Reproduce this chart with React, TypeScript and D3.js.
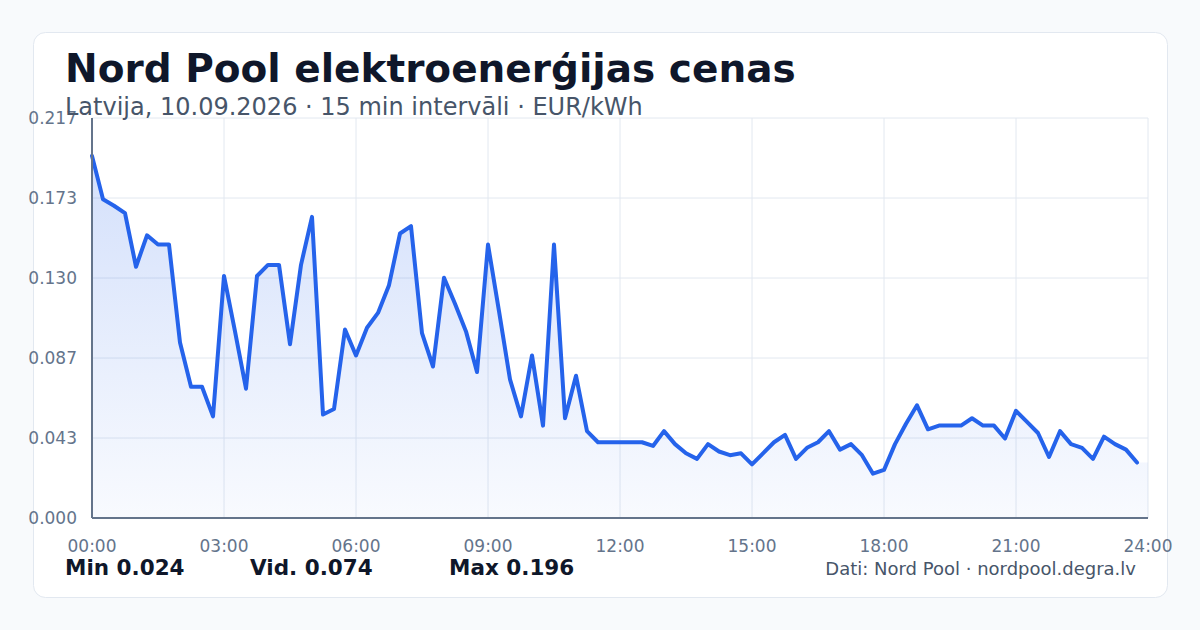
import React, { useRef, useEffect } from 'react';
import * as d3 from 'd3';

// 15 min prices, 00:00 .. 23:45 (EUR/kWh)
const prices: number[] = [
    0.196, 0.1725, 0.169, 0.165, 0.136, 0.153, 0.148, 0.148,
    0.095, 0.071, 0.071, 0.055, 0.131, 0.101, 0.070, 0.131,
    0.137, 0.137, 0.094, 0.137, 0.163, 0.056, 0.059, 0.102,
    0.088, 0.103, 0.111, 0.126, 0.154, 0.158, 0.100, 0.082,
    0.130, 0.116, 0.101, 0.079, 0.148, 0.112, 0.075, 0.055,
    0.088, 0.050, 0.148, 0.054, 0.077, 0.047, 0.041, 0.041,
    0.041, 0.041, 0.041, 0.039, 0.047, 0.040, 0.035, 0.032,
    0.040, 0.036, 0.034, 0.035, 0.029, 0.035, 0.041, 0.045,
    0.032, 0.038, 0.041, 0.047, 0.037, 0.040, 0.034, 0.024,
    0.026, 0.040, 0.051, 0.061, 0.048, 0.050, 0.050, 0.050,
    0.054, 0.050, 0.050, 0.043, 0.058, 0.052, 0.046, 0.033,
    0.047, 0.040, 0.038, 0.032, 0.044, 0.040, 0.037, 0.030,
];

const yMax = 0.2165;
const yTickValues = [0, 0.0433, 0.0866, 0.1299, 0.1732, 0.2165];
const yTickLabels = ['0.000', '0.043', '0.087', '0.130', '0.173', '0.217'];
const xTickHours = [0, 3, 6, 9, 12, 15, 18, 21, 24];
const xTickLabels = ['00:00', '03:00', '06:00', '09:00', '12:00', '15:00', '18:00', '21:00', '24:00'];

const title = 'Nord Pool elektroenerģijas cenas';
const subtitle = 'Latvija, 10.09.2026 · 15 min intervāli · EUR/kWh';
const statLabels = ['Min 0.024', 'Vid. 0.074', 'Max 0.196'];
const sourceText = 'Dati: Nord Pool · nordpool.degra.lv';

const App: React.FC = () => {
    const svgRef = useRef<SVGSVGElement | null>(null);
    const width = 1200;
    const height = 630;
    const margin = { top: 118, right: 52, bottom: 112, left: 92 };
    const font = '"DejaVu Sans", Verdana, sans-serif';

    useEffect(() => {
        if (!svgRef.current) return;
        const svg = d3.select(svgRef.current);
        svg.selectAll('*').remove();
        svg.attr('viewBox', `0 0 ${width} ${height}`).attr('width', width).attr('height', height);

        const x = d3.scaleLinear().domain([0, 24]).range([margin.left, width - margin.right]);
        const y = d3.scaleLinear().domain([0, yMax]).range([height - margin.bottom, margin.top]);

        // page + card
        svg.append('rect').attr('width', width).attr('height', height).attr('fill', '#f8fafc');
        svg.append('rect')
            .attr('x', 33.5).attr('y', 32.5).attr('width', 1134).attr('height', 565)
            .attr('rx', 12).attr('fill', '#ffffff').attr('stroke', '#e2e8f0');

        const defs = svg.append('defs');
        const grad = defs.append('linearGradient').attr('id', 'area-grad')
            .attr('x1', 0).attr('y1', 0).attr('x2', 0).attr('y2', 1);
        grad.append('stop').attr('offset', '0%').attr('stop-color', '#2563eb').attr('stop-opacity', 0.2);
        grad.append('stop').attr('offset', '100%').attr('stop-color', '#2563eb').attr('stop-opacity', 0.03);

        // grid
        svg.append('g').selectAll('line')
            .data(yTickValues).join('line')
            .attr('x1', margin.left).attr('x2', width - margin.right)
            .attr('y1', d => y(d)).attr('y2', d => y(d))
            .attr('stroke', '#e2e8f0').attr('stroke-width', 1);
        svg.append('g').selectAll('line')
            .data(xTickHours).join('line')
            .attr('x1', d => x(d)).attr('x2', d => x(d))
            .attr('y1', margin.top).attr('y2', height - margin.bottom)
            .attr('stroke', '#e2e8f0').attr('stroke-width', 1);

        const pts = prices.map((v, i) => ({ h: i / 4, v }));

        // area runs to 24:00 holding the last value
        const areaPts = [...pts, { h: 24, v: prices[prices.length - 1] }];
        svg.append('path')
            .datum(areaPts)
            .attr('fill', 'url(#area-grad)')
            .attr('d', d3.area<{ h: number; v: number }>()
                .x(d => x(d.h)).y0(y(0)).y1(d => y(d.v))(areaPts) as string);

        svg.append('path')
            .datum(pts)
            .attr('fill', 'none')
            .attr('stroke', '#2563eb')
            .attr('stroke-width', 4)
            .attr('stroke-linejoin', 'round')
            .attr('stroke-linecap', 'round')
            .attr('d', d3.line<{ h: number; v: number }>().x(d => x(d.h)).y(d => y(d.v))(pts) as string);

        // axes
        svg.append('line')
            .attr('x1', margin.left).attr('x2', margin.left)
            .attr('y1', margin.top).attr('y2', height - margin.bottom)
            .attr('stroke', '#64748b').attr('stroke-width', 2);
        svg.append('line')
            .attr('x1', margin.left).attr('x2', width - margin.right)
            .attr('y1', height - margin.bottom).attr('y2', height - margin.bottom)
            .attr('stroke', '#64748b').attr('stroke-width', 2);

        svg.append('g').selectAll('text')
            .data(yTickValues).join('text')
            .attr('x', margin.left - 15).attr('y', d => y(d))
            .attr('dy', '0.35em')
            .attr('text-anchor', 'end')
            .attr('font-family', font).attr('font-size', 17).attr('fill', '#64748b')
            .text((_, i) => yTickLabels[i]);

        svg.append('g').selectAll('text')
            .data(xTickHours).join('text')
            .attr('x', d => x(d)).attr('y', 552)
            .attr('text-anchor', 'middle')
            .attr('font-family', font).attr('font-size', 17).attr('fill', '#64748b')
            .text((_, i) => xTickLabels[i]);

        // header
        svg.append('text')
            .attr('x', 65).attr('y', 82)
            .attr('font-family', font).attr('font-size', 39).attr('font-weight', 'bold')
            .attr('fill', '#0f172a')
            .text(title);
        svg.append('text')
            .attr('x', 65).attr('y', 115)
            .attr('font-family', font).attr('font-size', 24)
            .attr('fill', '#475569')
            .text(subtitle);

        // footer
        const statX = [65, 250, 449];
        svg.append('g').selectAll('text')
            .data(statLabels).join('text')
            .attr('x', (_, i) => statX[i]).attr('y', 575)
            .attr('font-family', font).attr('font-size', 21.5).attr('font-weight', 'bold')
            .attr('fill', '#0f172a')
            .text(d => d);
        svg.append('text')
            .attr('x', 1136).attr('y', 575)
            .attr('text-anchor', 'end')
            .attr('font-family', font).attr('font-size', 18)
            .attr('fill', '#475569')
            .text(sourceText);
    }, []);

    return (
        <div style={{ position: 'fixed', top: 0, left: 0 }}>
            <svg ref={svgRef} style={{ display: 'block' }}></svg>
        </div>
    );
};

export default App;
